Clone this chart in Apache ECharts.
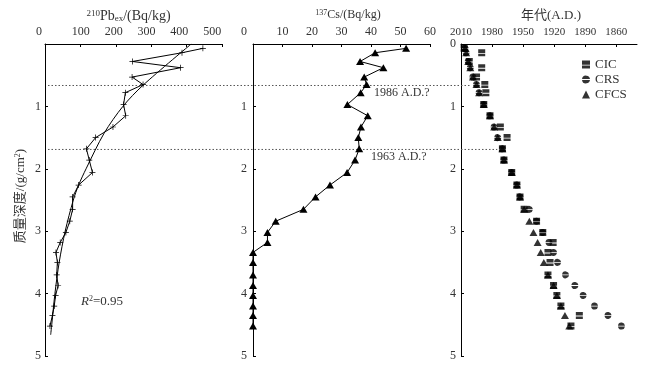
<!DOCTYPE html>
<html><head><meta charset="utf-8">
<script src="https://cdn.jsdelivr.net/npm/echarts@6/dist/echarts.min.js"></script>
<style>html,body{margin:0;padding:0;background:#fff}#c{width:655px;height:369px}</style>
</head><body><div id="c"></div>
<script>
// ---- data ----
const depth = [0.07,0.14,0.28,0.38,0.53,0.65,0.78,0.97,1.15,1.33,1.50,1.68,1.86,2.06,2.26,2.45,2.65,2.84,3.02,3.18,3.34,3.50,3.70,3.87,4.03,4.20,4.35,4.52];
const pb210 = [446,387,247,383,246,277,227,222,228,192,143,117,125,134,95,78,78,70,59,43,31,35,33,37,30,26,21,14];
const fitDepth = [0,0.66,1.0,1.43,2.0,2.26,2.5,3.0,3.5,4.0,4.5,4.66];
const fitPb = [413,277,220,167,116,95,80,57,40,28,19,16];
const cs137 = [51.9,41.4,36.3,44.2,37.7,38.5,36.5,32.0,38.9,36.6,35.7,36.0,34.6,31.9,26.1,21.2,17.1,7.7,4.9,4.9,0,0,0,0,0,0,0,0];
const ageCIC = [2007,1990,2002,1990,1995,1987,1986,1988,1982,1972,1965.5,1970,1968.5,1961,1956,1953,1949,1937,1931,1921,1926,1924,1926,1920.6,1917.4,1913.5,1895.7,1903.8];
const ageCRS = [2006,2005,2003,2001,1998.5,1995,1992.5,1988,1982,1978,1974.5,1970,1968.5,1961,1956,1953,1944,1937,1931,1925,1920.6,1916.7,1909,1900,1892,1881,1868,1855];
const ageCFCS = [2006,2005,2003,2001,1998.5,1995,1992.5,1988,1982,1978,1974.5,1970,1968.5,1961,1956,1953,1949,1944,1940,1936,1933,1930,1926,1920.6,1917.4,1913.5,1909.6,1905.4];
const pbTicks = [0,100,200,300,400,500];
const yearTicks = [2010,1980,1950,1920,1890,1860];
const refLines = [
  {depth:0.665, endYear:2001, label:'1986 A.D.?'},
  {depth:1.69, endYear:1975, label:'1963 A.D.?'}
];
const seriesNames = ['CIC','CRS','CFCS'];

const FONT = "'Liberation Serif','Times New Roman','Noto Sans CJK SC',serif";
const TXT = '#333';
const zip = (xs, ys) => xs.map((x,i)=>[x, ys[i]]);

const plusPath = 'path://M4.4,0H5.6V4.4H10V5.6H5.6V10H4.4V5.6H0V4.4H4.4Z';
const cicPath = 'path://M0,0H10V5.2H0Z M0,6.4H10V10H0Z';
const crsPath = 'path://M0.05,4.5A5,5 0 0 1 9.95,4.5Z M0.05,5.6A5,5 0 0 0 9.95,5.6Z';

const axLine = {show:true, lineStyle:{color:'#000', width:1}};
const axTick = {show:true, inside:true, length:3, lineStyle:{color:'#000', width:1}};
const lblBase = {color:TXT, fontFamily:FONT, fontSize:12};

const chart = echarts.init(document.getElementById('c'), null, {renderer:'canvas'});
const yAxisBase = (gi, extra) => Object.assign({
  gridIndex:gi, type:'value', inverse:true, min:0, max:5, interval:1,
  axisLine:axLine, axisTick:axTick, splitLine:{show:false},
  axisLabel:Object.assign({margin:4}, lblBase)
}, extra||{});

chart.setOption({
  animation:false,
  backgroundColor:'#fff',
  grid:[
    {left:45, top:44, width:177, height:312, outerBoundsMode:'none'},
    {left:253, top:44, width:177, height:312, outerBoundsMode:'none'},
    {left:461, top:44, width:176, height:312, outerBoundsMode:'none'}
  ],
  xAxis:[
    {gridIndex:0, type:'value', position:'top', min:0, max:500, interval:100,
     axisLine:axLine, axisTick:axTick, axisLabel:{show:false}, splitLine:{show:false},
     name:'{sup|210}Pb{sub|ex}/(Bq/kg)', nameLocation:'middle', nameGap:21,
     nameTextStyle:{fontFamily:FONT, fontSize:14, color:TXT, padding:[0,10,0,0],
       rich:{sup:{fontFamily:FONT, fontSize:9, color:TXT, verticalAlign:'top'},
             sub:{fontFamily:FONT, fontSize:9, color:TXT, verticalAlign:'bottom'}}}},
    {gridIndex:0, type:'value', position:'top', min:-9, max:530,
     axisLine:{show:false}, axisTick:{show:false}, splitLine:{show:false},
     axisLabel:Object.assign({margin:6, customValues:pbTicks,
       formatter:v => v===0 ? '{z|0}' : String(v),
       rich:{z:{fontFamily:FONT, fontSize:12, color:TXT, padding:[0,18,0,0]}}}, lblBase)},
    {gridIndex:1, type:'value', position:'top', min:0, max:60, interval:10,
     axisLine:axLine, axisTick:axTick, splitLine:{show:false},
     axisLabel:Object.assign({margin:6,
       formatter:v => v===0 ? '{z|0}' : String(v),
       rich:{z:{fontFamily:FONT, fontSize:12, color:TXT, padding:[0,18,0,0]}}}, lblBase),
     name:'{sup|137}Cs/(Bq/kg)', nameLocation:'middle', nameGap:21,
     nameTextStyle:{fontFamily:FONT, fontSize:12, color:TXT, padding:[0,0,0,13],
       rich:{sup:{fontFamily:FONT, fontSize:8, color:TXT, verticalAlign:'top'}}}},
    {gridIndex:2, type:'value', position:'top', min:1840, max:2010, inverse:true,
     axisLine:axLine, splitLine:{show:false},
     axisTick:Object.assign({customValues:yearTicks}, axTick),
     axisLabel:Object.assign({margin:6, customValues:yearTicks, formatter:v => String(v)}, lblBase, {fontSize:11}),
     name:'年代(A.D.)', nameLocation:'middle', nameGap:22,
     nameTextStyle:{fontFamily:FONT, fontSize:13, color:TXT, padding:[0,0,0,4]}}
  ],
  yAxis:[
    yAxisBase(0, {axisLabel:Object.assign({margin:4, showMinLabel:false}, lblBase),
      name:'质量深度/(g/cm{sup|2})', nameLocation:'middle', nameRotate:90, nameGap:18,
      nameTextStyle:{fontFamily:FONT, fontSize:13, color:TXT, padding:[0,0,0,8],
        rich:{sup:{fontFamily:FONT, fontSize:8, color:TXT, verticalAlign:'top'}}}}),
    yAxisBase(1, {axisLabel:Object.assign({margin:6, showMinLabel:false}, lblBase)}),
    yAxisBase(2, {axisLabel:Object.assign({margin:5}, lblBase)})
  ],
  legend:{
    data:seriesNames, orient:'vertical', left:577, top:53,
    itemWidth:8, itemHeight:8, itemGap:2,
    textStyle:{fontFamily:FONT, fontSize:13, color:TXT}
  },
  series:[
    {type:'line', name:'Pb', xAxisIndex:0, yAxisIndex:0, data:zip(pb210, depth),
     symbol:plusPath, symbolSize:6, itemStyle:{color:'#000'},
     lineStyle:{color:'#000', width:1}},
    {type:'line', name:'fit', xAxisIndex:0, yAxisIndex:0, data:zip(fitPb, fitDepth),
     smooth:0.3, showSymbol:false, symbol:'none', lineStyle:{color:'#000', width:1}},
    {type:'line', name:'Cs', xAxisIndex:2, yAxisIndex:1, data:zip(cs137, depth),
     symbol:'triangle', symbolSize:[8,7], itemStyle:{color:'#000'},
     lineStyle:{color:'#000', width:1}, clip:false},
    {type:'scatter', name:'CIC', xAxisIndex:3, yAxisIndex:2, data:zip(ageCIC, depth),
     symbol:cicPath, symbolSize:7, itemStyle:{color:'#000'}},
    {type:'scatter', name:'CRS', xAxisIndex:3, yAxisIndex:2, data:zip(ageCRS, depth),
     symbol:crsPath, symbolSize:7, itemStyle:{color:'#000'}},
    {type:'scatter', name:'CFCS', xAxisIndex:3, yAxisIndex:2, data:zip(ageCFCS, depth),
     symbol:'triangle', symbolSize:[8,7], itemStyle:{color:'#000'}}
  ]
});

// reference (dotted) lines and annotations, positioned through the chart's own scales
const g = [];
refLines.forEach(r => {
  const p0 = chart.convertToPixel({xAxisIndex:0, yAxisIndex:0}, [0, r.depth]);
  const p1 = chart.convertToPixel({xAxisIndex:3, yAxisIndex:2}, [r.endYear, r.depth]);
  g.push({type:'line', shape:{x1:p0[0]+3, y1:p0[1], x2:p1[0], y2:p1[1]},
          style:{stroke:'#555', lineWidth:1, lineDash:[1.5,2]}, z:1});
});
g.push({type:'text', left:374, top:87, style:{text:refLines[0].label, font:"12px "+FONT, fill:TXT}});
g.push({type:'text', left:371, top:151, style:{text:refLines[1].label, font:"12px "+FONT, fill:TXT}});
g.push({type:'text', left:81, top:295, style:{text:'{i|R}{s|2}=0.95', font:"13px "+FONT, fill:TXT,
  rich:{i:{fontFamily:FONT, fontSize:13, fontStyle:'italic', fill:TXT}, s:{fontFamily:FONT, fontSize:8, fill:TXT, verticalAlign:'top'}}}});
chart.setOption({graphic:g});
</script></body></html>
